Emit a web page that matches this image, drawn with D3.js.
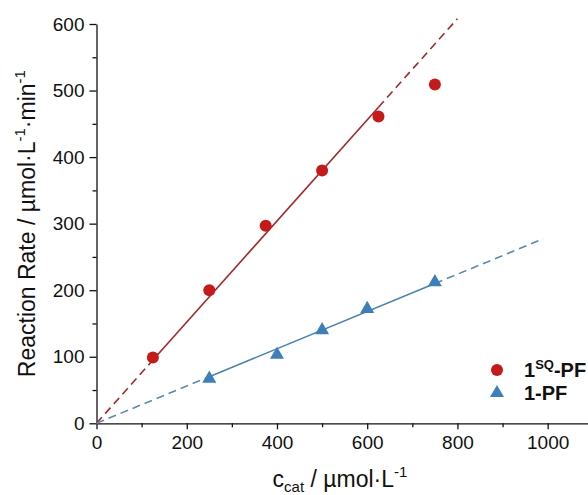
<!DOCTYPE html>
<html>
<head>
<meta charset="utf-8">
<script src="https://cdn.jsdelivr.net/npm/d3@7"></script>
<style>
  body { margin: 0; background: #fff; }
  svg { display: block; font-family: "Liberation Sans", Arial, sans-serif; }
</style>
</head>
<body>
<div id="chart"></div>
<script>
// 1SQ-PF series
var cSQ = [125, 250, 375, 500, 625, 750];
var rateSQ = [99, 200, 297, 380, 461, 509];
// 1-PF series
var c1 = [250, 400, 500, 600, 750];
var rate1 = [67, 103, 140, 172, 212];

// linear fits (slope, solid range, dashed extension)
var fitSQ = { slope: 0.76, from: 125, to: 625, ext: 800 };
var fit1 = { slope: 0.28, from: 250, to: 750, ext: 990 };

var xTicks = [0, 200, 400, 600, 800, 1000];
var yTicks = [0, 100, 200, 300, 400, 500, 600];

var width = 588, height = 495;
var red = '#c41a1a', redLine = '#a3282b';
var blue = '#3d7fb8', blueLine = '#4a83ad';

var svg = d3.select('#chart')
    .append('svg')
    .attr('width', width)
    .attr('height', height);

var x = d3.scaleLinear().domain([0, 1100]).range([96.5, 592.8]);
var y = d3.scaleLinear().domain([0, 600]).range([423.3, 24]);

// minor ticks
svg.append('g')
    .attr('transform', 'translate(0,' + y(0) + ')')
    .call(d3.axisBottom(x).tickValues(d3.range(100, 1100, 200)).tickSize(4).tickFormat(''))
    .call(function(g) { g.select('.domain').remove(); });
svg.append('g')
    .attr('transform', 'translate(' + x(0) + ',0)')
    .call(d3.axisLeft(y).tickValues(d3.range(50, 600, 100)).tickSize(4).tickFormat(''))
    .call(function(g) { g.select('.domain').remove(); });

svg.append('g')
    .attr('transform', 'translate(0,' + y(0) + ')')
    .call(d3.axisBottom(x).tickValues(xTicks).tickFormat(d3.format('d')).tickSize(6).tickPadding(6).tickSizeOuter(0));
svg.append('g')
    .attr('transform', 'translate(' + x(0) + ',0)')
    .call(d3.axisLeft(y).tickValues(yTicks).tickFormat(d3.format('d')).tickSize(7).tickPadding(5).tickSizeOuter(0));

svg.selectAll('.tick line, .domain').attr('stroke', '#111').attr('stroke-width', 1.3);
svg.selectAll('.tick text').attr('font-size', 19).attr('fill', '#111')
    .attr('font-family', '"Liberation Sans", Arial, sans-serif');

// fit lines
function fitLine(f, color, dash) {
    var line = d3.line().x(function(d) { return x(d); }).y(function(d) { return y(f.slope * d); });
    svg.append('path').datum([0, f.from]).attr('d', line)
        .attr('fill', 'none').attr('stroke', dash).attr('stroke-width', 1.6).attr('stroke-dasharray', '8,5');
    svg.append('path').datum([f.to, f.ext]).attr('d', line)
        .attr('fill', 'none').attr('stroke', dash).attr('stroke-width', 1.6).attr('stroke-dasharray', '8,5');
    svg.append('path').datum([f.from, f.to]).attr('d', line)
        .attr('fill', 'none').attr('stroke', color).attr('stroke-width', 1.6);
}
fitLine(fitSQ, redLine, redLine);
fitLine(fit1, blueLine, '#5a8aac');

// markers
svg.selectAll('.ptSQ')
    .data(cSQ)
    .enter()
    .append('circle')
    .attr('class', 'ptSQ')
    .attr('cx', function(d) { return x(d); })
    .attr('cy', function(d, i) { return y(rateSQ[i]); })
    .attr('r', 6)
    .attr('fill', red);

var tri = d3.symbol().type(d3.symbolTriangle).size(85);
svg.selectAll('.pt1')
    .data(c1)
    .enter()
    .append('path')
    .attr('class', 'pt1')
    .attr('d', tri)
    .attr('transform', function(d, i) { return 'translate(' + x(d) + ',' + y(rate1[i]) + ')'; })
    .attr('fill', blue);

// legend
svg.append('circle').attr('cx', 497).attr('cy', 370).attr('r', 6).attr('fill', red);
svg.append('path').attr('d', tri).attr('transform', 'translate(497,393)').attr('fill', blue);
var l1 = svg.append('text').attr('x', 524).attr('y', 377).attr('font-size', 20).attr('font-weight', 'bold').attr('fill', '#111');
l1.append('tspan').text('1');
l1.append('tspan').attr('font-size', 13).attr('dy', -8).text('SQ');
l1.append('tspan').attr('dy', 8).text('-PF');
svg.append('text').attr('x', 524).attr('y', 400).attr('font-size', 20).attr('font-weight', 'bold').attr('fill', '#111').text('1-PF');

// axis titles
var xt = svg.append('text').attr('x', 340).attr('y', 487).attr('text-anchor', 'middle').attr('font-size', 23).attr('fill', '#111');
xt.append('tspan').text('c');
xt.append('tspan').attr('font-size', 15).attr('dy', 5).text('cat');
xt.append('tspan').attr('dy', -5).text(' / \u00b5mol\u00b7L');
xt.append('tspan').attr('font-size', 15).attr('dy', -10).text('-1');

var yt = svg.append('text').attr('transform', 'translate(35,' + ((y(0) + y(600)) / 2) + ') rotate(-90)')
    .attr('text-anchor', 'middle').attr('font-size', 23).attr('fill', '#111');
yt.append('tspan').text('Reaction Rate / \u00b5mol\u00b7L');
yt.append('tspan').attr('font-size', 15).attr('dy', -10).text('-1');
yt.append('tspan').attr('dy', 10).text('\u00b7min');
yt.append('tspan').attr('font-size', 15).attr('dy', -10).text('-1');
</script>
</body>
</html>
